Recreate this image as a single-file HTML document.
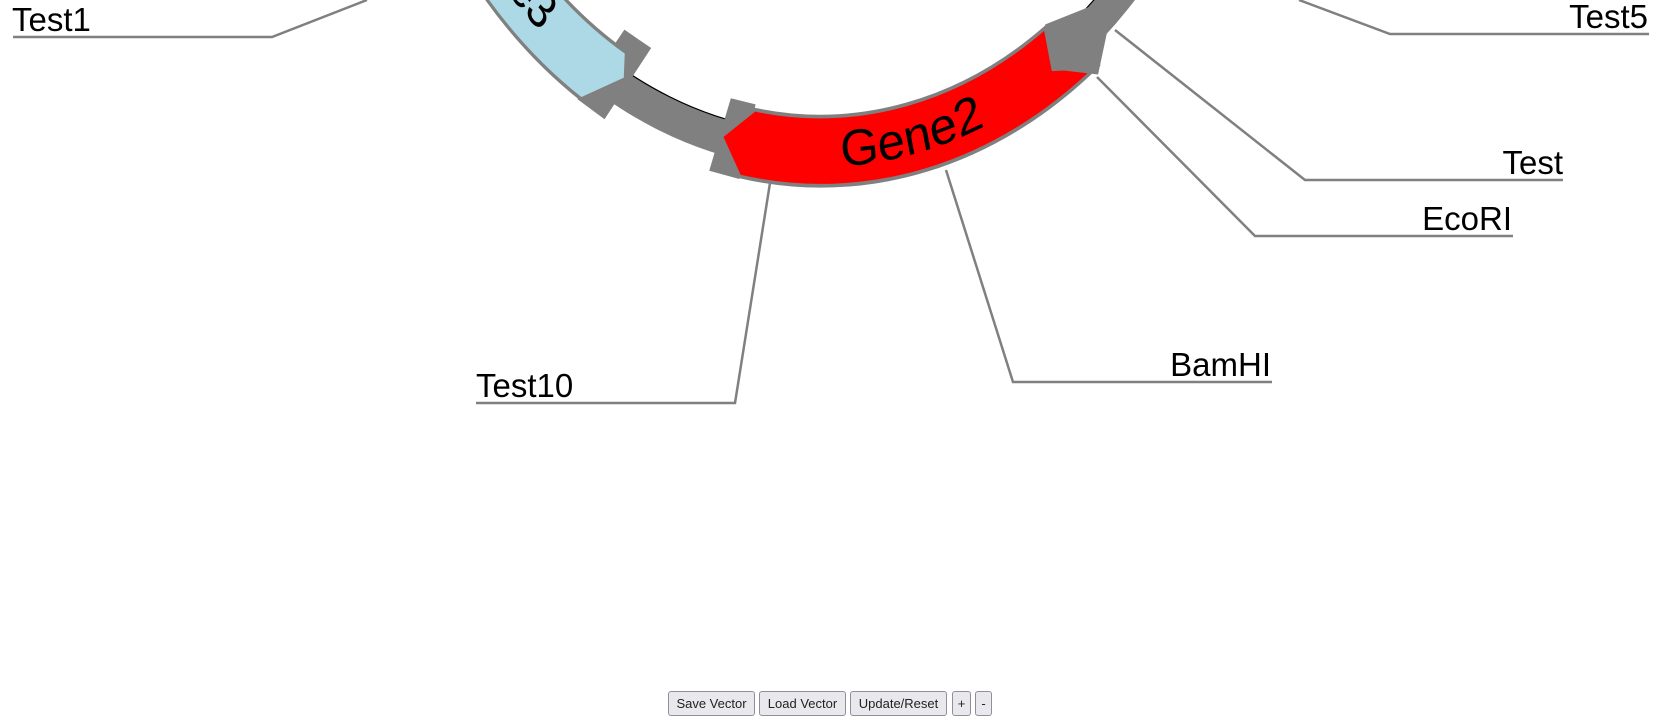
<!DOCTYPE html>
<html><head><meta charset="utf-8"><style>
html,body{margin:0;padding:0;background:#fff;width:1670px;height:724px;overflow:hidden}
svg{position:absolute;left:0;top:0}
.lbl{font-family:"Liberation Sans",sans-serif;font-size:33px;fill:#000}
.btns{position:absolute;top:691px;left:668px;height:25px;font-family:"Liberation Sans",sans-serif;font-size:13px}
.b{position:absolute;top:0;line-height:23px;box-sizing:border-box;border:1px solid #8f8f9d;border-radius:3px;background:#e9e9ed;color:#222;text-align:center;height:25px}
</style></head><body>
<svg width="1670" height="724" viewBox="0 0 1670 724">
<g transform="translate(820,-380) scale(4.22,5.31)">
  <circle cx="0" cy="0" r="100" fill="none" stroke="#808080" stroke-width="6.8"/>
  <circle cx="0" cy="0" r="96.6" fill="none" stroke="#000" stroke-width="0.25"/>
  <polygon points="-40.01,80.61 -51.06,94.03 -57.49,90.24 -46.35,77.15" fill="#808080"/>
  <path d="M-45.91,81.46 L-46.16,86.45 L-56.59,90.22 A106.5,106.5 0 0 1 -36.42,-100.08 L-31.98,-87.86 A93.5,93.5 0 0 0 -45.91,81.46 Z" fill="#add8e6" stroke="#808080" stroke-width="0.7"/>
  <polygon points="-15.26,91.23 -21.13,90.06 -26.25,103.73 -19.13,105.28" fill="#808080"/>
  <path d="M65.5,84.2 A106.5,106.5 0 0 1 -19.04,104.79 L-23.34,97.24 L-15.43,92.22 A93.5,93.5 0 0 0 53.34,76.8 L55.2,84.6 Z" fill="#ff0000" stroke="#808080" stroke-width="0.7"/>
  <polygon points="64.6,72.6 53.34,76.17 55.2,84.6 65.9,85.6 68.3,76.6" fill="#808080"/>
  <path id="p3" d="M-65.56,-78.13 A102,102 0 0 0 -66.24,77.56" fill="none"/>
  <path id="p2" d="M-47.4,91.44 A103,103 0 0 0 81.82,62.56" fill="none"/>
  <text font-family="Liberation Sans,sans-serif" font-size="10" fill="#000"><textPath href="#p3" startOffset="100%" text-anchor="end">Gene3</textPath></text>
  <text font-family="Liberation Sans,sans-serif" font-size="9.6" fill="#000"><textPath href="#p2" startOffset="50%" text-anchor="middle" textLength="35" lengthAdjust="spacingAndGlyphs">Gene2</textPath></text>
</g>
<g fill="none" stroke="#808080" stroke-width="2.5">
  <polyline points="13,37 272,37 367,0"/>
  <polyline points="1649,34 1390,34 1299,0"/>
  <polyline points="1563,180 1305,180 1115,30"/>
  <polyline points="1513,236 1255,236 1097,77"/>
  <polyline points="1272,382 1013,382 946,170"/>
  <polyline points="476,403 735,403 770,183"/>
</g>
<text class="lbl" x="12" y="31">Test1</text>
<text class="lbl" x="1648" y="28" text-anchor="end">Test5</text>
<text class="lbl" x="1563" y="174" text-anchor="end">Test</text>
<text class="lbl" x="1512" y="230" text-anchor="end">EcoRI</text>
<text class="lbl" x="1271" y="376" text-anchor="end">BamHI</text>
<text class="lbl" x="476" y="397">Test10</text>
</svg>
<div class="btns">
<div class="b" style="left:0;width:87px">Save Vector</div>
<div class="b" style="left:91px;width:87px">Load Vector</div>
<div class="b" style="left:182px;width:97px">Update/Reset</div>
<div class="b" style="left:284px;width:19px">+</div>
<div class="b" style="left:307px;width:17px">-</div>
</div>
</body></html>
